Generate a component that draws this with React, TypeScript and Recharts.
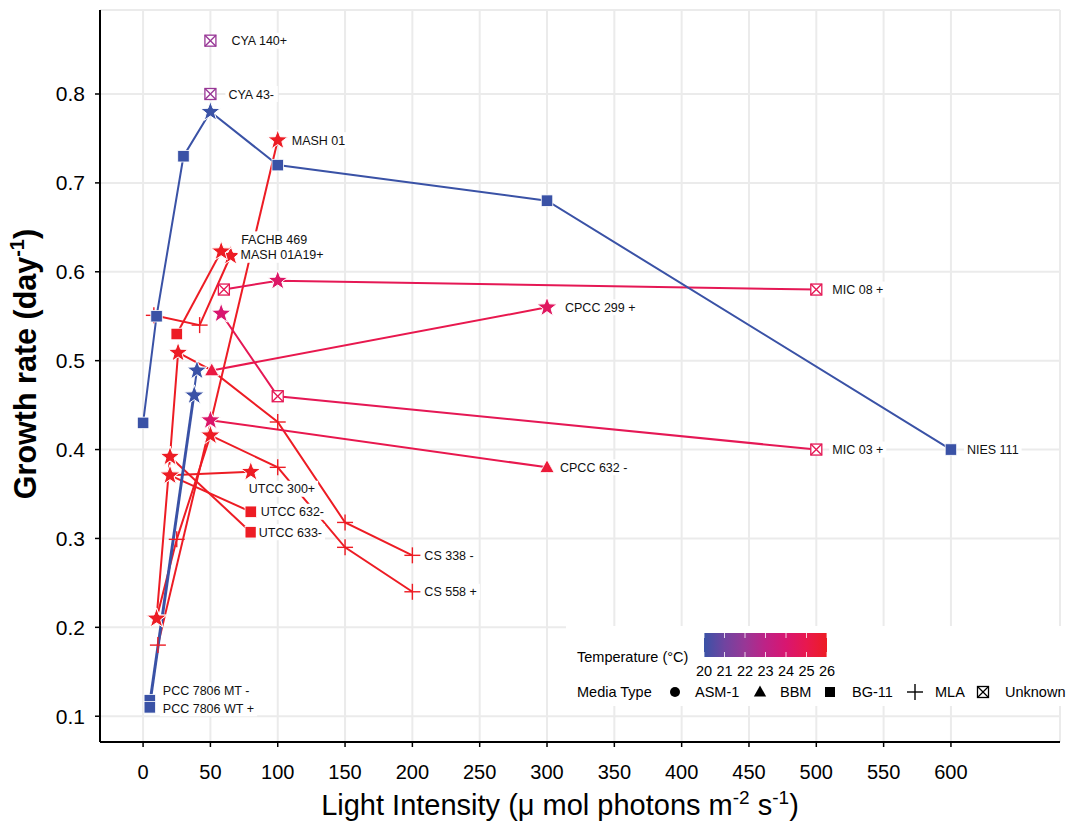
import React from 'react';
import { ScatterChart, Scatter, XAxis, YAxis, CartesianGrid } from 'recharts';

type Pt = { x: number; y: number; t: number; m: string };

const FONT = "'Liberation Sans', Arial, sans-serif";

const xTicks = [0, 50, 100, 150, 200, 250, 300, 350, 400, 450, 500, 550, 600];
const yTicks = [0.1, 0.2, 0.3, 0.4, 0.5, 0.6, 0.7, 0.8];
const tempTicks = [20, 21, 22, 23, 24, 25, 26];
const mediaTypes = ['ASM-1', 'BBM', 'BG-11', 'MLA', 'Unknown'];

// one array per strain: light intensity, growth rate, temperature, media
const nies111: Pt[] = [
  { x: 0, y: 0.43, t: 20, m: 'BG-11' },
  { x: 10, y: 0.55, t: 20, m: 'BG-11' },
  { x: 30, y: 0.73, t: 20, m: 'BG-11' },
  { x: 50, y: 0.78, t: 20, m: 'ASM-1' },
  { x: 100, y: 0.72, t: 20, m: 'BG-11' },
  { x: 300, y: 0.68, t: 20, m: 'BG-11' },
  { x: 600, y: 0.4, t: 20, m: 'BG-11' },
];
const pcc7806MT: Pt[] = [
  { x: 5, y: 0.118, t: 20, m: 'BG-11' },
  { x: 40, y: 0.489, t: 20, m: 'ASM-1' },
];
const pcc7806WT: Pt[] = [
  { x: 5, y: 0.11, t: 20, m: 'BG-11' },
  { x: 38, y: 0.461, t: 20, m: 'ASM-1' },
];
const cya140: Pt[] = [{ x: 50, y: 0.86, t: 22, m: 'Unknown' }];
const cya43: Pt[] = [{ x: 50, y: 0.8, t: 22, m: 'Unknown' }];
const mash01: Pt[] = [
  { x: 11, y: 0.18, t: 26, m: 'MLA' },
  { x: 100, y: 0.748, t: 26, m: 'ASM-1' },
];
const fachb469: Pt[] = [
  { x: 25, y: 0.53, t: 26, m: 'BG-11' },
  { x: 58, y: 0.623, t: 26, m: 'ASM-1' },
];
const mash01a19: Pt[] = [
  { x: 8, y: 0.551, t: 26, m: 'MLA' },
  { x: 42, y: 0.54, t: 26, m: 'MLA' },
  { x: 65, y: 0.618, t: 26, m: 'ASM-1' },
];
const mic08: Pt[] = [
  { x: 60, y: 0.58, t: 24.8, m: 'Unknown' },
  { x: 100, y: 0.59, t: 24.3, m: 'ASM-1' },
  { x: 500, y: 0.58, t: 24.8, m: 'Unknown' },
];
const mic03: Pt[] = [
  { x: 58, y: 0.553, t: 24, m: 'ASM-1' },
  { x: 100, y: 0.46, t: 24.8, m: 'Unknown' },
  { x: 500, y: 0.4, t: 24.8, m: 'Unknown' },
];
const cpcc299: Pt[] = [
  { x: 51, y: 0.489, t: 25.3, m: 'BBM' },
  { x: 300, y: 0.56, t: 24.5, m: 'ASM-1' },
];
const cpcc632: Pt[] = [
  { x: 50, y: 0.433, t: 24.2, m: 'ASM-1' },
  { x: 300, y: 0.38, t: 25.5, m: 'BBM' },
];
const cs338: Pt[] = [
  { x: 10, y: 0.21, t: 26, m: 'ASM-1' },
  { x: 20, y: 0.392, t: 26, m: 'ASM-1' },
  { x: 26, y: 0.509, t: 26, m: 'ASM-1' },
  { x: 51, y: 0.489, t: 25.3, m: 'BBM' },
  { x: 100, y: 0.431, t: 26, m: 'MLA' },
  { x: 150, y: 0.318, t: 26, m: 'MLA' },
  { x: 200, y: 0.281, t: 26, m: 'MLA' },
];
const cs558: Pt[] = [
  { x: 10, y: 0.21, t: 26, m: 'ASM-1' },
  { x: 25, y: 0.299, t: 26, m: 'MLA' },
  { x: 50, y: 0.416, t: 26, m: 'ASM-1' },
  { x: 100, y: 0.38, t: 26, m: 'MLA' },
  { x: 150, y: 0.29, t: 26, m: 'MLA' },
  { x: 200, y: 0.24, t: 26, m: 'MLA' },
];
const utcc300: Pt[] = [
  { x: 20, y: 0.371, t: 26, m: 'ASM-1' },
  { x: 80, y: 0.375, t: 26, m: 'ASM-1' },
];
const utcc632: Pt[] = [
  { x: 20, y: 0.371, t: 26, m: 'ASM-1' },
  { x: 80, y: 0.33, t: 26, m: 'BG-11' },
];
const utcc633: Pt[] = [
  { x: 20, y: 0.392, t: 26, m: 'ASM-1' },
  { x: 80, y: 0.307, t: 26, m: 'BG-11' },
];

const series = [
  { t: 26, pts: mash01a19 },
  { t: 26, pts: cs338 },
  { t: 26, pts: cs558 },
  { t: 26, pts: mash01 },
  { t: 26, pts: fachb469 },
  { t: 26, pts: utcc300 },
  { t: 26, pts: utcc632 },
  { t: 26, pts: utcc633 },
  { t: 24.8, pts: mic08 },
  { t: 24.8, pts: mic03 },
  { t: 25, pts: cpcc299 },
  { t: 25, pts: cpcc632 },
  { t: 20, pts: nies111 },
  { t: 20, pts: pcc7806MT },
  { t: 20, pts: pcc7806WT },
  { t: 22, pts: cya140 },
  { t: 22, pts: cya43 },
];

const labels = [
  { text: 'CYA 140+', x: 50, y: 0.86 },
  { text: 'CYA 43-', x: 50, y: 0.8 },
  { text: 'MASH 01', x: 100, y: 0.748 },
  { text: 'FACHB 469', x: 58, y: 0.623 },
  { text: 'MASH 01A19+', x: 65, y: 0.618 },
  { text: 'MIC 08 +', x: 500, y: 0.58 },
  { text: 'CPCC 299 +', x: 300, y: 0.56 },
  { text: 'NIES 111', x: 600, y: 0.4 },
  { text: 'MIC 03 +', x: 500, y: 0.4 },
  { text: 'CPCC 632 -', x: 300, y: 0.38 },
  { text: 'UTCC 300+', x: 80, y: 0.375 },
  { text: 'UTCC 632-', x: 80, y: 0.33 },
  { text: 'UTCC 633-', x: 80, y: 0.307 },
  { text: 'CS 338 -', x: 200, y: 0.281 },
  { text: 'CS 558 +', x: 200, y: 0.24 },
  { text: 'PCC 7806 MT -', x: 5, y: 0.118 },
  { text: 'PCC 7806 WT +', x: 5, y: 0.11 },
];

// pixel nudges of each label from its point
const labelNudge: Record<string, [number, number]> = {
  'CYA 140+': [21, 0],
  'CYA 43-': [18, 0],
  'MASH 01': [14, 0],
  'FACHB 469': [20, -12],
  'MASH 01A19+': [10, -1],
  'MIC 08 +': [16, 0],
  'CPCC 299 +': [18, 0],
  'NIES 111': [16, 0],
  'MIC 03 +': [16, 0],
  'CPCC 632 -': [13, 0],
  'UTCC 300+': [-2, 17],
  'UTCC 632-': [10, 0],
  'UTCC 633-': [8, 0],
  'CS 338 -': [12, 0],
  'CS 558 +': [12, 0],
  'PCC 7806 MT -': [13, -10],
  'PCC 7806 WT +': [13, 1],
};

const colorStops: [number, number[]][] = [
  [20, [58, 82, 166]],
  [21, [112, 68, 160]],
  [22, [152, 55, 150]],
  [23, [190, 34, 134]],
  [24, [216, 22, 112]],
  [25, [232, 24, 78]],
  [26, [237, 28, 36]],
];

function tempColor(t: number) {
  for (let i = 0; i < colorStops.length - 1; i++) {
    const [a, ca] = colorStops[i];
    const [b, cb] = colorStops[i + 1];
    if (t <= b) {
      const f = Math.max(0, (t - a) / (b - a));
      const c = ca.map((v, k) => Math.round(v + (cb[k] - v) * f));
      return `rgb(${c[0]},${c[1]},${c[2]})`;
    }
  }
  const c = colorStops[colorStops.length - 1][1];
  return `rgb(${c[0]},${c[1]},${c[2]})`;
}

function starPath(cx: number, cy: number, R: number, r: number) {
  let d = '';
  for (let i = 0; i < 10; i++) {
    const a = (-90 + i * 36) * (Math.PI / 180);
    const rad = i % 2 === 0 ? R : r;
    d += (i === 0 ? 'M' : 'L') + (cx + rad * Math.cos(a)).toFixed(2) + ',' + (cy + rad * Math.sin(a)).toFixed(2);
  }
  return d + 'Z';
}

function Symbol({ cx, cy, m, color, legend }: { cx: number; cy: number; m: string; color: string; legend?: boolean }) {
  if (m === 'ASM-1') {
    if (legend) return <circle cx={cx} cy={cy} r={5} fill={color} />;
    return <path d={starPath(cx, cy, 10.5, 4.3)} fill={color} stroke="#fff" strokeWidth={1} />;
  }
  if (m === 'BBM') {
    const s = legend ? 6.5 : 7.5;
    return (
      <polygon
        points={`${cx},${cy - s} ${cx - s * 0.95},${cy + s * 0.7} ${cx + s * 0.95},${cy + s * 0.7}`}
        fill={color}
        stroke={legend ? 'none' : '#fff'}
        strokeWidth={0.8}
      />
    );
  }
  if (m === 'BG-11') {
    const s = legend ? 10 : 11.5;
    return <rect x={cx - s / 2} y={cy - s / 2} width={s} height={s} fill={color} stroke={legend ? 'none' : '#fff'} strokeWidth={0.8} />;
  }
  if (m === 'MLA') {
    const s = 8;
    return (
      <g stroke={color} strokeWidth={1.4}>
        <line x1={cx - s} y1={cy} x2={cx + s} y2={cy} />
        <line x1={cx} y1={cy - s} x2={cx} y2={cy + s} />
      </g>
    );
  }
  const s = 5.5;
  return (
    <g stroke={color} strokeWidth={1.3} fill={legend ? 'none' : '#fff'}>
      <rect x={cx - s} y={cy - s} width={2 * s} height={2 * s} />
      <line x1={cx - s} y1={cy - s} x2={cx + s} y2={cy + s} />
      <line x1={cx - s} y1={cy + s} x2={cx + s} y2={cy - s} />
    </g>
  );
}

let ctx: CanvasRenderingContext2D | null = null;
function textWidth(s: string, size: number) {
  if (!ctx) ctx = document.createElement('canvas').getContext('2d');
  if (!ctx) return s.length * size * 0.55;
  ctx.font = `${size}px "Liberation Sans", Arial`;
  return ctx.measureText(s).width;
}

const MarkerShape = (p: any) => {
  const d = p.payload as Pt;
  if (p.cx == null || p.cy == null) return <g />;
  return <Symbol cx={p.cx} cy={p.cy} m={d.m} color={tempColor(d.t)} />;
};

const LabelShape = (p: any) => {
  const d = p.payload;
  if (p.cx == null || p.cy == null) return <g />;
  const [dx, dy] = labelNudge[d.text] || [10, 0];
  const x = p.cx + dx;
  const y = p.cy + dy;
  const w = textWidth(d.text, 12.5);
  return (
    <g>
      <rect x={x - 3} y={y - 8} width={w + 6} height={16} fill="#fff" />
      <text x={x} y={y + 4.5} fontSize={12.5} fontFamily={FONT} fill="#111">
        {d.text}
      </text>
    </g>
  );
};

const noShape = () => <g />;

const allPoints: Pt[] = series.flatMap((s) => s.pts);

function Overlay() {
  const barX = 704;
  const barW = 123;
  const step = barW / (tempTicks.length - 1);
  const mediaX = [675, 760, 830, 915, 983];
  const mediaTextX = [695, 780, 852, 935, 1005];
  return (
    <svg
      width={1069}
      height={823}
      style={{ position: 'absolute', left: 0, top: 0, pointerEvents: 'none' }}
      fontFamily={FONT}
    >
      <defs>
        <linearGradient id="tempGrad" x1="0" x2="1" y1="0" y2="0">
          {colorStops.map(([t, c]) => (
            <stop key={t} offset={(t - 20) / 6} stopColor={`rgb(${c[0]},${c[1]},${c[2]})`} />
          ))}
        </linearGradient>
      </defs>
      {/* axis titles */}
      <text transform="rotate(-90)" x={-364} y={36} textAnchor="middle" fontSize={30.5} fontWeight="bold" fill="#000">
        Growth rate (day<tspan dy={-12} fontSize={20}>-1</tspan>
        <tspan dy={12}>)</tspan>
      </text>
      <text x={560} y={815} textAnchor="middle" fontSize={29} fill="#000">
        Light Intensity (μ mol photons m<tspan dy={-11} fontSize={19}>-2</tspan>
        <tspan dy={11}> s</tspan>
        <tspan dy={-11} fontSize={19}>-1</tspan>
        <tspan dy={11}>)</tspan>
      </text>
      {/* legend */}
      <rect x={566} y={626} width={503} height={80} fill="#fff" />
      <text x={577} y={662} fontSize={14.5} fill="#000">Temperature (°C)</text>
      <rect x={barX} y={633} width={barW} height={24} fill="url(#tempGrad)" />
      {tempTicks.map((t, i) => (
        <g key={t}>
          <line x1={barX + i * step} x2={barX + i * step} y1={633} y2={638} stroke="#fff" strokeWidth={0.8} />
          <line x1={barX + i * step} x2={barX + i * step} y1={652} y2={657} stroke="#fff" strokeWidth={0.8} />
          <text x={barX + i * step} y={676} textAnchor="middle" fontSize={14.5} fill="#000">
            {t}
          </text>
        </g>
      ))}
      <text x={577} y={697} fontSize={14.5} fill="#000">Media Type</text>
      {mediaTypes.map((m, i) => (
        <g key={m}>
          <Symbol cx={mediaX[i]} cy={692} m={m} color="#000" legend />
          <text x={mediaTextX[i]} y={697} fontSize={14.5} fill="#000">
            {m}
          </text>
        </g>
      ))}
    </svg>
  );
}

export default function App() {
  return (
    <div style={{ position: 'absolute', left: 0, top: 0, width: 1069, height: 823 }}>
      <ScatterChart width={1069} height={823} margin={{ top: 10, right: 9, bottom: 0, left: 0 }}>
        <CartesianGrid stroke="#EBEBEB" strokeWidth={2} />
        <XAxis
          type="number"
          dataKey="x"
          domain={[-32, 681]}
          ticks={xTicks}
          interval={0}
          allowDataOverflow
          height={81}
          axisLine={{ stroke: '#000', strokeWidth: 2 }}
          tickLine={{ stroke: '#000', strokeWidth: 1.5 }}
          tickSize={5}
          tickMargin={18}
          tick={{ fill: '#000', fontSize: 20, fontFamily: FONT }}
        />
        <YAxis
          type="number"
          dataKey="y"
          domain={[0.071, 0.8945]}
          ticks={yTicks}
          interval={0}
          allowDataOverflow
          width={100}
          axisLine={{ stroke: '#000', strokeWidth: 2 }}
          tickLine={{ stroke: '#000', strokeWidth: 1.5 }}
          tickSize={5}
          tickMargin={10}
          tick={{ fill: '#000', fontSize: 21, fontFamily: FONT }}
          tickFormatter={(v: number) => v.toFixed(1)}
        />
        {series.map((s, i) => (
          <Scatter
            key={'line' + i}
            data={s.pts}
            line={{ stroke: tempColor(s.t), strokeWidth: 2 }}
            lineType="joint"
            shape={noShape}
            isAnimationActive={false}
          />
        ))}
        <Scatter data={allPoints} shape={MarkerShape} isAnimationActive={false} />
        <Scatter data={labels} shape={LabelShape} isAnimationActive={false} />
      </ScatterChart>
      <Overlay />
    </div>
  );
}
